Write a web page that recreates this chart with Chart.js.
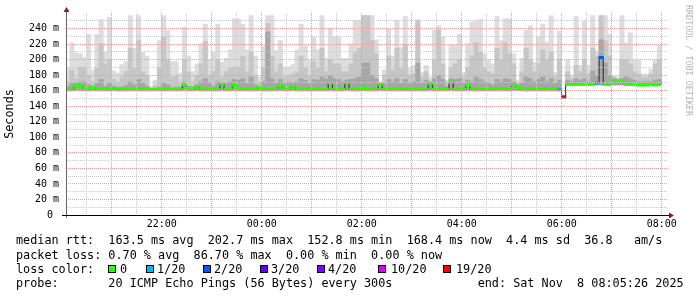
<!DOCTYPE html>
<html>
<head>
<meta charset="utf-8">
<title>median rtt</title>
<script src="https://cdn.jsdelivr.net/npm/chart.js@4.4.1/dist/chart.umd.min.js"></script>
<style>
  body { margin: 0; background: #fff; }
  #wrap { position: relative; width: 697px; height: 297px; overflow: hidden; }
  #chart { position: absolute; left: 0; top: 0; }
  .row { position: absolute; left: 16px; margin: 0; font: 11.8px 'DejaVu Sans Mono', monospace; color: #000; white-space: pre; line-height: 14px; }
  .box { position: absolute; top: 265px; width: 8px; height: 8px; box-sizing: border-box; border: 1px solid #000; }
  .lab { position: absolute; top: 262px; font: 11.8px 'DejaVu Sans Mono', monospace; line-height: 14px; white-space: pre; color: #000; }
  #credit { position: absolute; left: 684px; top: 5px; writing-mode: vertical-rl; font: 8.4px 'DejaVu Sans Mono', monospace; line-height: 10px; color: #b4b4b4; white-space: pre; }
</style>
</head>
<body>
<div id="wrap">
  <canvas id="chart" width="697" height="297"></canvas>
  <div id="credit">RRDTOOL / TOBI OETIKER</div>
  <div class="row" style="top:233px">median rtt:  163.5 ms avg  202.7 ms max  152.8 ms min  168.4 ms now  4.4 ms sd  36.8   am/s</div>
  <div class="row" style="top:247.5px">packet loss: 0.70 % avg  86.70 % max  0.00 % min  0.00 % now</div>
  <div class="row" style="top:262px">loss color:</div>
  <div id="losslegend"></div>
  <div class="row" style="top:276px">probe:       20 ICMP Echo Pings (56 Bytes) every 300s            end: Sat Nov  8 08:05:26 2025</div>
</div>
<script>
// one step = 5 minutes, time in hours relative to midnight (22:00 = -2)
const startHour = -3.92;
const stepHours = 5 / 60;

// median rtt per step (ms)
const medianRtt = [
  161.5,161.5,166,166,161.5,161.5,164,161.5,161.5,161.5,161.5,163,
  161.5,161.5,161.5,161.5,161.5,161.5,161.5,161.5,161.5,161.5,161.5,161.5,
  161.5,161.5,161.5,161.5,168,161.5,161.5,165,161.5,161.5,161.5,161.5,
  161.5,168,161.5,161.5,167,161.5,161.5,161.5,161.5,161.5,164,161.5,
  161.5,161.5,161.5,166,161.5,161.5,165,161.5,161.5,161.5,161.5,161.5,
  161.5,161.5,161.5,170,161.5,161.5,161.5,170,161.5,161.5,161.5,164,
  161.5,161.5,161.5,168,161.5,161.5,161.5,161.5,161.5,161.5,161.5,161.5,
  161.5,161.5,161.5,169,161.5,161.5,161.5,161.5,171,161.5,161.5,161.5,
  167,161.5,161.5,161.5,161.5,161.5,161.5,161.5,161.5,161.5,161.5,168,
  164,161.5,161.5,161.5,161.5,161.5,161.5,161.5,161.5,161.5,161.5,152,
  168.5,168.5,168.5,168.5,168.5,168.5,168.5,170,202.5,168.5,168.5,171.5,
  171.5,171.5,168.5,168.5,168.5,167.5,167.5,167.5,168.5,167.5,168.5
];

// lost pings out of 20 per step
const lossCount = [
  0,0,0,0,0,0,0,0,0,0,0,0,
  0,0,0,0,0,0,0,0,0,0,0,0,
  0,0,0,0,0,0,0,0,0,0,0,0,
  0,0,0,0,0,0,0,0,0,0,0,0,
  0,0,0,0,0,0,0,0,0,0,0,0,
  0,0,0,0,0,0,0,0,0,0,0,0,
  0,0,0,0,0,0,0,0,0,0,0,0,
  0,0,0,0,0,0,0,0,0,0,0,0,
  0,0,0,0,0,0,0,0,0,0,0,0,
  0,0,0,0,0,0,0,0,0,0,1,19,
  0,0,0,0,0,0,0,1,2,0,0,0,
  0,0,0,0,0,0,0,0,0,0,0
];

// smoke: lowest ping, and tops of the dark / medium / light bands (ms)
const pingMin = [
  160,160,160,160,160,160,160,160,160,160,160,160,
  160,160,160,160,160,160,160,160,160,160,160,160,
  160,160,160,160,160,160,160,160,160,160,160,160,
  160,160,160,160,160,160,160,160,160,160,160,160,
  160,160,160,160,160,160,160,160,160,160,160,160,
  160,160,160,160,160,160,160,160,160,160,160,160,
  160,160,160,160,160,160,160,160,160,160,160,160,
  160,160,160,160,160,160,160,160,160,160,160,160,
  160,160,160,160,160,160,160,160,160,160,160,160,
  160,160,160,160,160,160,160,160,160,160,160,151,
  167,167,167,167,167,167,167,167,167,167,167,167,
  167,167,167,167,167,167,167,167,167,167,167
];
const smokeDark = [
  166,170,170,172,172,168,166,170,175,166,170,166,
  165,165,167,172,168,175,170,166,162,163,165,170,
  168,164,165,165,172,166,165,168,172,176,170,166,
  172,170,170,172,175,174,176,170,178,168,165,172,
  236,176,170,175,170,172,170,172,176,174,170,175,
  174,178,175,180,176,175,172,174,175,176,178,196,
  196,180,176,168,170,175,172,176,170,175,170,172,
  196,170,174,172,176,180,175,166,176,175,176,170,
  174,172,178,175,172,170,168,175,172,176,175,172,
  168,170,178,176,172,175,178,172,176,170,174,152,
  174,172,176,174,176,172,186,180,226,196,180,176,
  175,176,178,176,174,172,172,172,172,174,175
];
const smokeMid = [
  172,187,176,191,191,180,172,190,221,195,200,175,
  172,178,185,215,190,225,185,180,163,168,190,230,
  200,178,180,172,200,185,172,180,195,224,180,185,
  200,178,185,190,191,191,205,185,210,180,172,190,
  247,205,185,195,178,180,182,185,205,190,180,198,
  190,215,185,200,195,195,185,185,195,210,215,257,
  257,225,208,170,180,205,187,215,190,220,180,182,
  250,178,185,172,200,238,195,172,190,195,200,178,
  190,205,222,210,190,185,182,215,200,222,208,195,
  170,185,215,200,185,195,213,200,210,178,200,152,
  185,176,193,185,200,182,215,205,257,225,205,178,
  176,200,200,195,185,182,178,178,182,195,200
];
const smokeMax = [
  190,222,209,208,203,233,187,233,252,210,255,186,
  183,194,198,257,215,257,210,205,166,174,225,257,
  238,198,198,183,242,205,185,195,221,246,200,210,
  246,197,202,213,253,253,246,213,257,205,178,217,
  257,257,212,225,191,191,194,213,246,218,200,229,
  213,257,202,241,230,229,202,202,221,251,251,257,
  257,257,226,172,187,240,205,251,216,256,189,193,
  252,184,193,178,238,244,229,174,219,219,233,184,
  221,249,250,252,208,200,195,256,225,253,253,208,
  174,202,238,244,197,230,246,223,257,184,237,153,
  200,180,256,193,250,193,257,212,257,257,233,180,
  178,257,222,235,200,200,182,182,188,200,219
];

const lossLevels = [0, 1, 2, 3, 4, 10, 19];
const lossLabels = ['0', '1/20', '2/20', '3/20', '4/20', '10/20', '19/20'];
const lossColors = ['#26ff00', '#00b8ff', '#0059ff', '#5e00ff', '#7e00ff', '#dd00ff', '#ff0000'];

const hourTicks = [-2, 0, 2, 4, 6, 8];
const hourLabels = ['22:00', '00:00', '02:00', '04:00', '06:00', '08:00'];
const rttTicks = [0, 20, 40, 60, 80, 100, 120, 140, 160, 180, 200, 220, 240];
const rttLabels = ['0 ', '20 m', '40 m', '60 m', '80 m', '100 m', '120 m', '140 m', '160 m', '180 m', '200 m', '220 m', '240 m'];

// legend boxes below the graph
const boxLeft = [108, 146, 203, 260, 317, 378, 443];
const labLeft = [120, 157, 214, 271, 328, 391, 456];
const legendEl = document.getElementById('losslegend');
lossLabels.forEach((txt, k) => {
  const b = document.createElement('span');
  b.className = 'box';
  b.style.left = boxLeft[k] + 'px';
  b.style.background = lossColors[k];
  legendEl.appendChild(b);
  const t = document.createElement('span');
  t.className = 'lab';
  t.style.left = labLeft[k] + 'px';
  t.textContent = txt;
  legendEl.appendChild(t);
});

const times = medianRtt.map((v, i) => startHour + (i + 0.5) * stepHours);

function colorForLoss(n) {
  let c = lossColors[0];
  lossLevels.forEach((lvl, k) => { if (n >= lvl) c = lossColors[k]; });
  return c;
}

function smoke(tops) {
  return tops.map((top, i) => ({ x: times[i], y: [pingMin[i], top] }));
}

const MAJOR = '#e6a0a0';
const MINOR = '#cbcbcb';

const axisArrows = {
  id: 'axisArrows',
  afterDraw(chart) {
    const { ctx, chartArea: a } = chart;
    ctx.save();
    ctx.lineWidth = 1;
    ctx.strokeStyle = '#666';
    ctx.beginPath();
    ctx.moveTo(a.left + 0.5, a.bottom + 3);
    ctx.lineTo(a.left + 0.5, a.top - 4);
    ctx.stroke();
    ctx.strokeStyle = '#000';
    ctx.beginPath();
    ctx.moveTo(a.left - 4, a.bottom + 0.5);
    ctx.lineTo(a.right + 1, a.bottom + 0.5);
    ctx.stroke();
    ctx.fillStyle = '#8b1c1c';
    ctx.beginPath();
    ctx.moveTo(a.left + 0.5, a.top - 6);
    ctx.lineTo(a.left - 2.5, a.top - 1);
    ctx.lineTo(a.left + 3.5, a.top - 1);
    ctx.fill();
    ctx.beginPath();
    ctx.moveTo(a.right + 6, a.bottom + 0.5);
    ctx.lineTo(a.right + 1, a.bottom - 2.5);
    ctx.lineTo(a.right + 1, a.bottom + 3.5);
    ctx.fill();
    ctx.restore();
  }
};

Chart.defaults.font.family = "'DejaVu Sans Mono', monospace";
Chart.defaults.font.size = 10;
Chart.defaults.color = '#000';

const barBase = { type: 'bar', grouped: false, categoryPercentage: 1, barPercentage: 1.2, borderWidth: 0 };

new Chart(document.getElementById('chart'), {
  type: 'bar',
  data: {
    datasets: [
      Object.assign({}, barBase, {
        label: 'loss', order: 1,
        data: medianRtt.map((m, i) => ({ x: times[i], y: [m - 2.2, m + 2.2] })),
        backgroundColor: lossCount.map(colorForLoss)
      }),
      {
        type: 'line', label: 'median', order: 2,
        data: medianRtt.map((m, i) => ({ x: times[i], y: m })),
        borderColor: '#202020', borderWidth: 1, stepped: 'middle', pointRadius: 0, fill: false
      },
      Object.assign({}, barBase, { label: 'smoke dark', order: 3, data: smoke(smokeDark), backgroundColor: '#a6a6a6' }),
      Object.assign({}, barBase, { label: 'smoke mid', order: 4, data: smoke(smokeMid), backgroundColor: '#c6c6c6' }),
      Object.assign({}, barBase, { label: 'smoke', order: 5, data: smoke(smokeMax), backgroundColor: '#dddddd' })
    ]
  },
  options: {
    responsive: false,
    animation: false,
    devicePixelRatio: 1,
    layout: { padding: { top: 13, right: 29, bottom: 0, left: 0 } },
    plugins: { legend: { display: false }, tooltip: { enabled: false } },
    scales: {
      x: {
        type: 'linear', min: -3.914, max: 8.126, offset: false,
        grid: {
          offset: false, drawTicks: false, z: 1, lineWidth: 1,
          color: c => Math.abs(c.tick.value - Math.round(c.tick.value)) < 1e-6 ? MAJOR : MINOR
        },
        border: { display: false, dash: [1, 1] },
        ticks: {
          stepSize: 0.5, autoSkip: false, maxRotation: 0, includeBounds: false, padding: 3,
          callback: v => { const k = hourTicks.indexOf(v); return k < 0 ? '' : hourLabels[k]; }
        },
        afterFit: s => { s.height = 82; }
      },
      y: {
        min: 0, max: 260,
        grid: {
          drawTicks: false, z: 1, lineWidth: 1,
          color: c => c.tick.value >= 260 ? 'rgba(0,0,0,0)' : (c.tick.value % 20 === 0 ? MAJOR : MINOR)
        },
        border: { display: false, dash: [1, 1] },
        ticks: {
          stepSize: 10, autoSkip: false, padding: 7,
          callback: v => { const k = rttTicks.indexOf(v); return k < 0 ? '' : rttLabels[k]; }
        },
        title: { display: true, text: 'Seconds', font: { size: 11.8 }, padding: { top: 3, bottom: 0 } },
        afterFit: s => { s.width = 66; }
      }
    }
  },
  plugins: [axisArrows]
});
</script>
</body>
</html>
